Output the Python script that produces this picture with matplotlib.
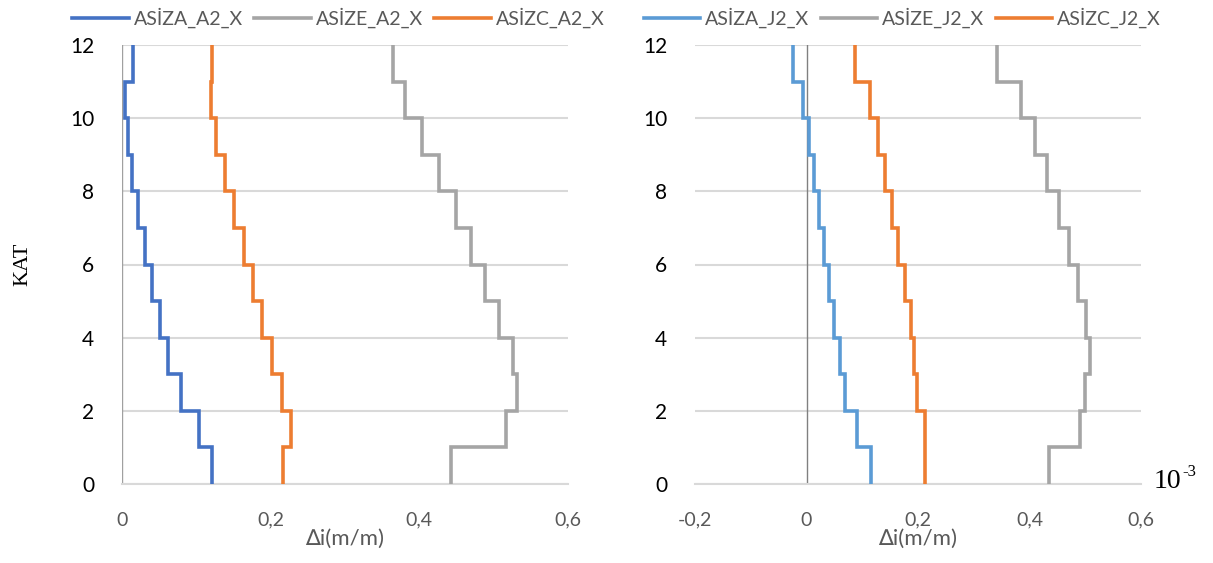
import numpy as np
import matplotlib
matplotlib.use("Agg")
import matplotlib.pyplot as plt

# Story boundaries (KAT) and per-story drift values
floors = np.arange(0, 13)

asiza_a2 = [0.121, 0.1036, 0.0798, 0.0623, 0.0511, 0.0404, 0.0314, 0.0215, 0.0135, 0.0076, 0.004, 0.0143]
asize_a2 = [0.442, 0.516, 0.531, 0.5265, 0.5067, 0.4888, 0.4695, 0.4489, 0.4269, 0.4031, 0.3807, 0.3641]
asizc_a2 = [0.217, 0.228, 0.2157, 0.2018, 0.1888, 0.1758, 0.1637, 0.1511, 0.139, 0.1269, 0.1193, 0.121]

asiza_j2 = [0.1154, 0.0897, 0.0688, 0.0598, 0.0502, 0.0407, 0.0317, 0.0233, 0.0138, 0.0042, -0.0054, -0.0239]
asize_j2 = [0.4354, 0.4904, 0.4988, 0.5084, 0.5006, 0.4874, 0.4713, 0.4533, 0.4318, 0.4097, 0.3846, 0.3409]
asizc_j2 = [0.2117, 0.2117, 0.198, 0.193, 0.187, 0.176, 0.1645, 0.1525, 0.14, 0.1274, 0.1136, 0.0867]

left_xticks = [0, 0.2, 0.4, 0.6]
right_xticks = [-0.2, 0, 0.2, 0.4, 0.6]
yticks = [0, 2, 4, 6, 8, 10, 12]

C_BLUE = "#4472C4"
C_BLUE2 = "#5B9BD5"
C_GRAY = "#A5A5A5"
C_ORANGE = "#ED7D31"
TXT_GRAY = "#595959"

SANS = ["Lato", "DejaVu Sans"]
SERIF = ["Liberation Serif", "DejaVu Serif"]
FS = 14


def step_xy(vals):
    xs = np.repeat(np.asarray(vals, float), 2)
    ys = np.repeat(floors, 2)[1:-1]
    return xs, ys


def fmt(v):
    s = f"{v:g}"
    return s.replace(".", ",")


fig = plt.figure(figsize=(12.13, 5.63), dpi=100)
axL = fig.add_axes([122 / 1213, 79 / 563, 446 / 1213, 439 / 563])
axR = fig.add_axes([695 / 1213, 79 / 563, 446 / 1213, 439 / 563])


def style(ax, xlim, xticks):
    ax.set_xlim(*xlim)
    ax.set_ylim(0, 12)
    ax.set_yticks(yticks)
    ax.set_xticks(xticks)
    ax.set_xticklabels([fmt(t) for t in xticks], family=SANS, fontsize=FS, color=TXT_GRAY)
    ax.set_yticklabels([str(t) for t in yticks], family=SANS, fontsize=FS + 1, color="black")
    ax.yaxis.grid(True, color="#D9D9D9", linewidth=1.5, zorder=0)
    ax.set_axisbelow(True)
    for s in ("top", "right", "left"):
        ax.spines[s].set_visible(False)
    ax.spines["bottom"].set_color("#D9D9D9")
    ax.spines["bottom"].set_linewidth(1.5)
    ax.tick_params(axis="both", length=0)
    ax.tick_params(axis="x", pad=20)
    ax.tick_params(axis="y", pad=20)
    ax.axvline(0, color="#A0A0A0" if xlim[0] == 0 else "#808080", linewidth=1.0, zorder=1)
    ax.set_xlabel("\u2206i(m/m)", family=SANS, fontsize=16, color=TXT_GRAY, labelpad=0)


style(axL, (0, 0.6), left_xticks)
style(axR, (-0.2, 0.6), right_xticks)

lw = 2.6
for ax, anchor_x, series in (
    (axL, 0.485, [("ASİZA_A2_X", asiza_a2, C_BLUE), ("ASİZE_A2_X", asize_a2, C_GRAY), ("ASİZC_A2_X", asizc_a2, C_ORANGE)]),
    (axR, 0.465, [("ASİZA_J2_X", asiza_j2, C_BLUE2), ("ASİZE_J2_X", asize_j2, C_GRAY), ("ASİZC_J2_X", asizc_j2, C_ORANGE)]),
):
    for name, vals, c in series:
        xs, ys = step_xy(vals)
        ax.plot(xs, ys, color=c, linewidth=lw, label=name, solid_joinstyle="miter", zorder=3)
    leg = ax.legend(loc="center", bbox_to_anchor=(anchor_x, 1 + 27 / 439), ncol=3, frameon=False,
                    prop={"family": SANS, "size": FS}, handlelength=2.9, columnspacing=0.6,
                    handletextpad=0.25, borderaxespad=0)
    for t in leg.get_texts():
        t.set_color(TXT_GRAY)

axL.set_ylabel("KAT", family=SERIF, fontsize=16, color="black")
axL.yaxis.set_label_coords(-(122 - 32) / 446, 0.5)

fig.text(1154 / 1213, 1 - 482 / 563, "10", family=SERIF, fontsize=20,
         color="black", ha="left", va="center")
fig.text(1182 / 1213, 1 - 472 / 563, "-3", family=SERIF, fontsize=12,
         color="black", ha="left", va="center")

fig.savefig("out.png", dpi=100)
